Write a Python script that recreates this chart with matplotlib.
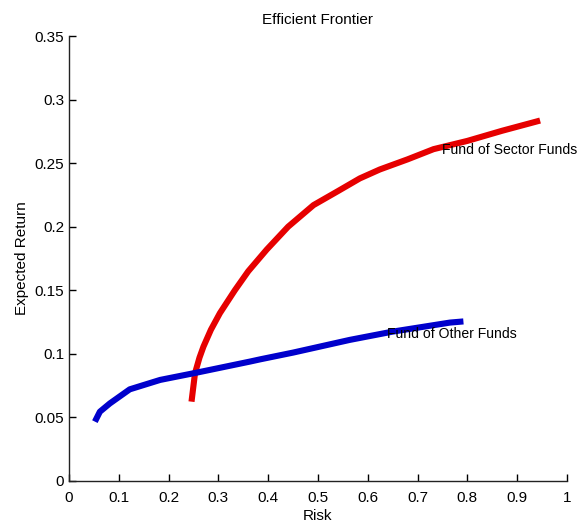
import matplotlib
matplotlib.use("Agg")
import matplotlib.pyplot as plt

plt.rcParams['font.family'] = ['Liberation Sans', 'DejaVu Sans']

# Data
sector_risk = [0.246, 0.253, 0.262, 0.270, 0.285, 0.303, 0.333, 0.36, 0.397, 0.44, 0.491, 0.54, 0.584, 0.624, 0.68, 0.732, 0.80, 0.87, 0.946]
sector_ret = [0.0624, 0.0847, 0.097, 0.1057, 0.119, 0.132, 0.150, 0.165, 0.182, 0.200, 0.217, 0.228, 0.238, 0.245, 0.253, 0.261, 0.2675, 0.2755, 0.2835]

other_risk = [0.052, 0.062, 0.082, 0.100, 0.122, 0.183, 0.256, 0.363, 0.384, 0.45, 0.564, 0.65, 0.765, 0.792]
other_ret = [0.0467, 0.0545, 0.061, 0.066, 0.0721, 0.0795, 0.0852, 0.0939, 0.0957, 0.101, 0.111, 0.1175, 0.1246, 0.1255]

xticks = [0, 0.1, 0.2, 0.3, 0.4, 0.5, 0.6, 0.7, 0.8, 0.9, 1]
xticklabels = ['0', '0.1', '0.2', '0.3', '0.4', '0.5', '0.6', '0.7', '0.8', '0.9', '1']
yticks = [0, 0.05, 0.1, 0.15, 0.2, 0.25, 0.3, 0.35]
yticklabels = ['0', '0.05', '0.1', '0.15', '0.2', '0.25', '0.3', '0.35']

fig = plt.figure(figsize=(5.82, 5.24), dpi=100)
ax = fig.add_axes([69/582, 43/524, 498/582, 445/524])

ax.plot(sector_risk, sector_ret, color='#e60000', lw=4.4, solid_capstyle='butt')
ax.plot(other_risk, other_ret, color='#0000cc', lw=4.4, solid_capstyle='butt')

ax.text(0.748, 0.260, 'Fund of Sector Funds', ha='left', va='center', fontsize=10.1)
ax.text(0.638, 0.116, 'Fund of Other Funds', ha='left', va='center', fontsize=10.1)

ax.set_xlim(0, 1)
ax.set_ylim(0, 0.35)
ax.set_xticks(xticks)
ax.set_xticklabels(xticklabels)
ax.set_yticks(yticks)
ax.set_yticklabels(yticklabels)
ax.tick_params(direction='in', length=5, width=1, labelsize=11, pad=3.5)
ax.tick_params(axis='x', pad=7)
for s in ['top', 'right']:
    ax.spines[s].set_visible(False)
for s in ['left', 'bottom']:
    ax.spines[s].set_linewidth(1)
    ax.spines[s].set_color('#222222')

ax.set_title('Efficient Frontier', fontsize=11, pad=9)
ax.set_xlabel('Risk', fontsize=11, labelpad=3)
ax.set_ylabel('Expected Return', fontsize=11, labelpad=4)

fig.savefig('out.png', dpi=100)
